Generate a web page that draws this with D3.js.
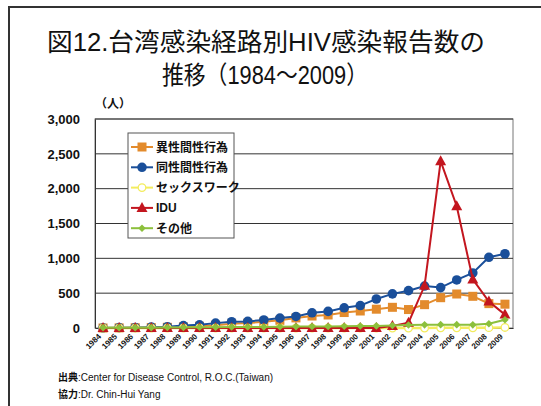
<!DOCTYPE html>
<html>
<head>
<meta charset="utf-8">
<script src="https://cdn.jsdelivr.net/npm/d3@7"></script>
<style>
  html, body { margin: 0; padding: 0; background: #fff; }
  svg { display: block; }
  text { font-family: "Liberation Sans", Arial, "Noto Sans CJK JP", sans-serif; }
</style>
</head>
<body>
<svg id="chart" width="541" height="406"></svg>
<script>
const years = ["1984","1985","1986","1987","1988","1989","1990","1991","1992","1993","1994","1995","1996","1997","1998","1999","2000","2001","2002","2003","2004","2005","2006","2007","2008","2009"];
const seriesNames = ["異性間性行為","同性間性行為","セックスワーク","IDU","その他"];
const hetero = [0,2,4,6,10,15,25,40,60,70,90,110,145,172,187,222,244,270,297,265,335,435,488,455,350,342];
const msm    = [2,5,8,12,18,35,45,70,90,95,115,142,166,218,238,290,322,416,490,536,602,580,690,790,1015,1066];
const sexWork= [0,0,0,0,0,0,0,0,0,0,0,0,0,0,0,0,0,0,0,0,0,2,3,3,5,8];
const idu    = [0,0,0,0,0,0,0,0,0,0,0,0,0,0,0,0,0,0,28,76,605,2395,1748,697,380,192];
const other  = [5,5,5,5,8,8,10,12,15,15,15,18,20,22,22,25,28,30,35,42,45,48,48,45,62,118];
const yTicks = [0,500,1000,1500,2000,2500,3000];
const unitLabel = "（人）";
const titleLines = ["図12.台湾感染経路別HIV感染報告数の","推移（1984～2009）"];
const sourceLabel = "出典";
const sourceText = ":Center for Disease Control, R.O.C.(Taiwan)";
const coopLabel = "協力";
const coopText = ":Dr.  Chin-Hui Yang";

const colors = ["#E38B2C","#1A4F9A","#F3EC5E","#C3161F","#8CC03C"];
const markers = ["square","circle","ocircle","triangle","diamond"];
const dataSets = [hetero, msm, sexWork, idu, other];

const svg = d3.select("#chart");

// frame
svg.append("path").attr("d","M9,406 L9,7 L541,7").attr("fill","none").attr("stroke","#333").attr("stroke-width",2);

// title
svg.append("text").attr("x",47).attr("y",51)
  .attr("font-size",25).attr("fill","#111")
  .attr("textLength",438).attr("lengthAdjust","spacingAndGlyphs").text(titleLines[0]);
svg.append("text").attr("x",162).attr("y",84)
  .attr("font-size",25).attr("fill","#111")
  .attr("textLength",206).attr("lengthAdjust","spacingAndGlyphs").text(titleLines[1]);

const pL = 95, pR = 513, pT = 119, pB = 328;
const x = d3.scalePoint().domain(years).range([pL, pR]).padding(0.5);
const y = d3.scaleLinear().domain([0,3000]).range([pB, pT]);

// plot border
svg.append("rect").attr("x",pL).attr("y",pT).attr("width",pR-pL).attr("height",pB-pT)
  .attr("fill","none").attr("stroke","#777").attr("stroke-width",1);

// gridlines
svg.append("g").selectAll("line").data(yTicks.slice(1)).join("line")
  .attr("x1",pL).attr("x2",pR).attr("y1",d=>y(d)).attr("y2",d=>y(d))
  .attr("stroke","#333").attr("stroke-width",1);

// y axis
const yAxis = d3.axisLeft(y).tickValues(yTicks).tickSize(0).tickPadding(15).tickFormat(d3.format(","));
const gy = svg.append("g").attr("transform",`translate(${pL},0)`).call(yAxis);
gy.select(".domain").attr("stroke","#333");
gy.selectAll("text").attr("font-size",13).attr("font-weight","bold").attr("fill","#111")
  .attr("font-family","'Liberation Sans', Arial, sans-serif");

svg.append("text").attr("x",95).attr("y",108).attr("font-size",12).attr("font-weight","bold")
  .attr("fill","#111").attr("font-family","'Noto Sans CJK JP', sans-serif").text(unitLabel);

// x axis
const xAxis = d3.axisBottom(x).tickSize(0).tickPadding(0);
const gx = svg.append("g").attr("transform",`translate(0,${pB})`).call(xAxis);
gx.select(".domain").attr("stroke","#333");
gx.selectAll("text").attr("font-size",8).attr("font-weight","bold").attr("fill","#111")
  .attr("text-anchor","end").attr("dy",null).attr("y",null)
  .attr("transform","translate(-2,9) rotate(-45)");

// series
const line = d3.line().x((d,i)=>x(years[i])).y(d=>y(d));
function drawMarker(g, type, color, cx, cy) {
  if (type === "square") {
    g.append("rect").attr("x",cx-4.5).attr("y",cy-4.5).attr("width",9).attr("height",9).attr("fill",color);
  } else if (type === "circle") {
    g.append("circle").attr("cx",cx).attr("cy",cy).attr("r",4.8).attr("fill",color);
  } else if (type === "ocircle") {
    g.append("circle").attr("cx",cx).attr("cy",cy).attr("r",3.8).attr("fill","#fff").attr("stroke",color).attr("stroke-width",1.3);
  } else if (type === "triangle") {
    g.append("path").attr("d",`M${cx},${cy-6} L${cx+5.5},${cy+4} L${cx-5.5},${cy+4} Z`).attr("fill",color);
  } else if (type === "diamond") {
    g.append("path").attr("d",`M${cx},${cy-3.8} L${cx+3.8},${cy} L${cx},${cy+3.8} L${cx-3.8},${cy} Z`).attr("fill",color);
  }
}
dataSets.forEach((vals, si) => {
  const g = svg.append("g");
  g.append("path").datum(vals).attr("d",line).attr("fill","none")
    .attr("stroke",colors[si]).attr("stroke-width",si===2?2.5:2);
  vals.forEach((v,i) => drawMarker(g, markers[si], colors[si], x(years[i]), y(v)));
});

// legend
const lg = svg.append("g");
lg.append("rect").attr("x",128).attr("y",133).attr("width",106).attr("height",105)
  .attr("fill","#fff").attr("stroke","#555").attr("stroke-width",1);
seriesNames.forEach((name, i) => {
  const cy = 147 + i*20.3;
  lg.append("line").attr("x1",131).attr("x2",153).attr("y1",cy).attr("y2",cy)
    .attr("stroke",colors[i]).attr("stroke-width",2);
  drawMarker(lg, markers[i], colors[i], 142, cy);
  lg.append("text").attr("x",156).attr("y",cy+4.5).attr("font-size",12).attr("font-weight","bold")
    .attr("fill","#111").attr("font-family","'Noto Sans CJK JP', sans-serif").text(name);
});

// footer
function footer(yPos, label, txt) {
  const t = svg.append("text").attr("x",58).attr("y",yPos).attr("font-size",10).attr("fill","#111");
  t.append("tspan").attr("font-weight","bold").attr("font-family","'Noto Sans CJK JP', sans-serif").text(label);
  t.append("tspan").attr("font-family","'Liberation Sans', Arial, sans-serif").text(txt);
}
footer(381, sourceLabel, sourceText);
footer(398, coopLabel, coopText);
</script>
</body>
</html>
